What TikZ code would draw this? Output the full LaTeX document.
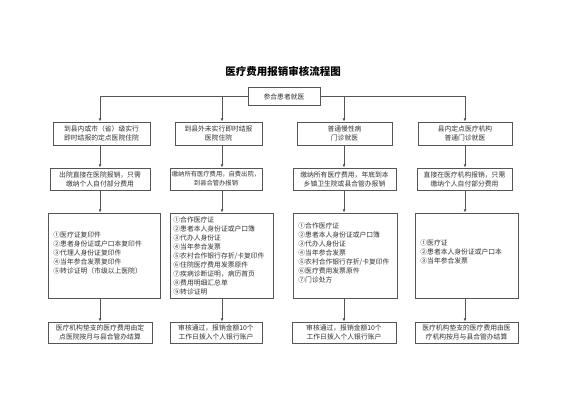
\documentclass[tikz,border=0pt]{standalone}
\usepackage{fontspec}
\newfontfamily\cjk{Noto Sans CJK SC}
\usetikzlibrary{arrows.meta}
\definecolor{ln}{HTML}{555555}
\definecolor{tx}{HTML}{333333}
\tikzset{
  box/.style={draw=ln, line width=0.8pt, fill=white, align=center, inner sep=1pt,
    font=\cjk\fontsize{6.8}{9}\selectfont, text=tx},
  arr/.style={draw=ln, line width=0.8pt, -{Latex[length=3.2pt,width=2.8pt]}},
  ln/.style={draw=ln, line width=0.8pt}
}
\begin{document}
\begin{tikzpicture}[x=1pt,y=-1pt]
\useasboundingbox (0,0) rectangle (565,400);
% arrow columns
\coordinate (c1) at (100,0);
\coordinate (c2) at (222,0);
\coordinate (c3) at (344,0);
\coordinate (c4) at (465,0);
% title
\node[font=\cjk\bfseries\fontsize{10.5}{12}\selectfont, text=black] (title) at (283,71) {医疗费用报销审核流程图};
% top
\node[box, minimum width=72pt, minimum height=18pt] (top) at (284,96.5) {参合患者就医};
% row 1
\node[box, minimum width=97pt, minimum height=23pt] (r1a) at (101.5,133.5) {到县内或市（省）级实行\\即时结报的定点医院住院};
\node[box, minimum width=87pt, minimum height=23pt] (r1b) at (218.5,133.5) {到县外未实行即时结报\\医院住院};
\node[box, minimum width=95pt, minimum height=23pt] (r1c) at (344.5,133.5) {普通慢性病\\门诊就医};
\node[box, minimum width=94pt, minimum height=23pt] (r1d) at (465,133.5) {县内定点医疗机构\\普通门诊就医};
% row 2
\node[box, minimum width=100pt, minimum height=22pt] (r2a) at (100,179) {出院直接在医院报销，只需\\缴纳个人自付部分费用};
\node[box, minimum width=92pt, minimum height=22pt, font=\cjk\fontsize{6.3}{9}\selectfont] (r2b) at (216,179) {缴纳所有医疗费用，自费出院，\\到县合管办报销};
\node[box, minimum width=103pt, minimum height=22pt] (r2c) at (344.5,179) {缴纳所有医疗费用，年底到本\\乡镇卫生院或县合管办报销};
\node[box, minimum width=95pt, minimum height=22pt] (r2d) at (464.5,179) {直接在医疗机构报销，只需\\缴纳个人自付部分费用};
% row 3 frames
\node[box, minimum width=112pt, minimum height=85pt] (r3a) at (104,255.5) {};
\node[box, minimum width=103pt, minimum height=85pt] (r3b) at (221.5,255.5) {};
\node[box, minimum width=104pt, minimum height=85pt] (r3c) at (345,255.5) {};
\node[box, minimum width=103pt, minimum height=85pt] (r3d) at (466.5,255.5) {};
% row 3 texts
\node[box, draw=none, fill=none, align=left, anchor=west] (t3a) at (52,253) {①医疗证复印件\\②患者身份证或户口本复印件\\③代理人身份证复印件\\④当年参合发票复印件\\⑤转诊证明（市级以上医院）};
\node[box, draw=none, fill=none, align=left, anchor=west] (t3b) at (172,256) {①合作医疗证\\②患者本人身份证或户口簿\\③代办人身份证\\④当年参合发票\\⑤农村合作银行存折/卡复印件\\⑥住院医疗费用发票原件\\⑦疾病诊断证明，病历首页\\⑧费用明细汇总单\\⑨转诊证明};
\node[box, draw=none, fill=none, align=left, anchor=west] (t3c) at (297,253) {①合作医疗证\\②患者本人身份证或户口簿\\③代办人身份证\\④当年参合发票\\⑤农村合作银行存折/卡复印件\\⑥医疗费用发票原件\\⑦门诊处方};
\node[box, draw=none, fill=none, align=left, anchor=west] (t3d) at (419,252) {①医疗证\\②患者本人身份证或户口本\\③当年参合发票};
% row 4
\node[box, minimum width=104pt, minimum height=21pt] (r4a) at (100,332.5) {医疗机构垫支的医疗费用由定\\点医院按月与县合管办结算};
\node[box, minimum width=92pt, minimum height=21pt] (r4b) at (216,332.5) {审核通过，报销金额10个\\工作日拨入个人银行账户};
\node[box, minimum width=104pt, minimum height=21pt] (r4c) at (344,332.5) {审核通过，报销金额10个\\工作日拨入个人银行账户};
\node[box, minimum width=103pt, minimum height=21pt] (r4d) at (466.5,332.5) {医疗机构垫支的医疗费用由医\\疗机构按月与县合管办结算};
% connectors from top
\draw[arr] (top.west) -| (r1a.north -| c1);
\draw[arr] (top.east) -| (r1d.north -| c4);
\draw[arr] (top.west -| c2) -- (r1b.north -| c2);
\draw[arr] (top.east -| c3) -- (r1c.north -| c3);
% column arrows
\foreach \c/\k in {c1/a, c2/b, c3/c, c4/d}{
  \draw[arr] (r1\k.south -| \c) -- (r2\k.north -| \c);
  \draw[arr] (r2\k.south -| \c) -- (r3\k.north -| \c);
  \draw[arr] (r3\k.south -| \c) -- (r4\k.north -| \c);
}
\end{tikzpicture}
\end{document}
